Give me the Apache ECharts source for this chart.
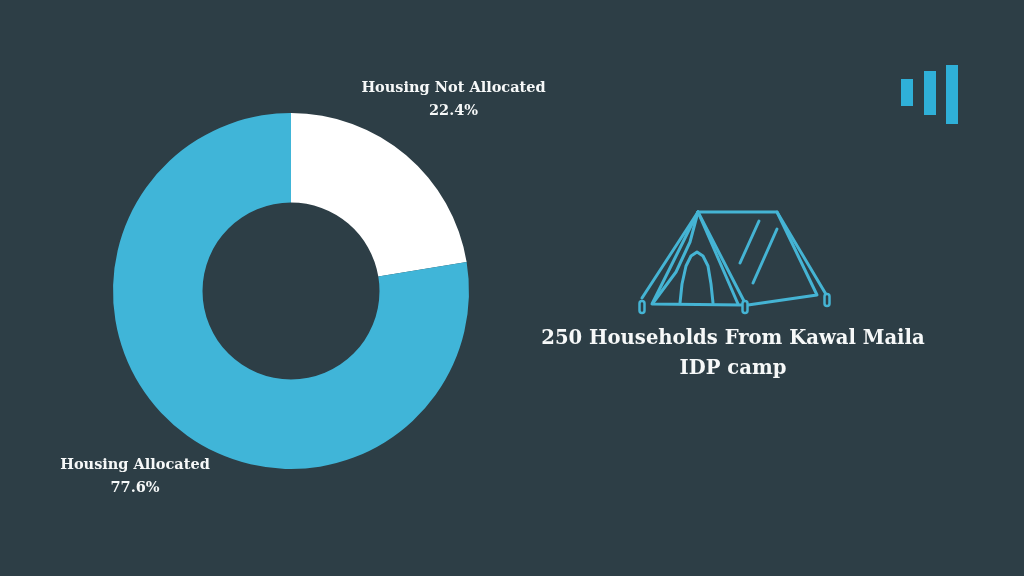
<!DOCTYPE html>
<html><head><meta charset="utf-8">
<style>html,body{margin:0;padding:0;background:#2d3e46}#c{width:1024px;height:576px}</style>
<script src="https://cdn.jsdelivr.net/npm/echarts@6/dist/echarts.min.js"></script></head>
<body><div id="c"></div>
<script>
const categories = ['Housing Not Allocated', 'Housing Allocated'];
const values = [22.4, 77.6];
const sliceColors = ['#ffffff', '#40b5d8'];
const titleText = '250 Households From Kawal Maila\nIDP camp';
const serif = '"DejaVu Serif","Liberation Serif",serif';
const blue = '#45b4d4';
const tentPaths = [
  [[698,212],[777,212],[827,296]],
  [[698,212],[642,298]],
  [[698,212],[652,304],[743,305]],
  [[698,212],[745,303]],
  [[698,212],[738,304]],
  [[759,221],[740,263]],
  [[777,229],[753,283]],
  [[777,212],[817,295],[748,305]]
];
const tentCurves = [
  [[698,212],[690,242],[676,272],[653,303]],
  [[680,303],[682,284],[686,266],[691,256],[697,252],[703,256],[708,266],[711,284],[713,303]]
];
const tentPegs = [[642,307],[745,307],[827,300]];
const chart = echarts.init(document.getElementById('c'));
chart.setOption({
  backgroundColor: '#2d3e46',
  animation: false,
  series: [{
    type: 'pie', center: [291,291], radius: [88.5,178], startAngle: 90, clockwise: true,
    data: categories.map((n,i)=>({name:n, value:values[i], itemStyle:{color:sliceColors[i]}})),
    label: {show:true, overflow:'none', width:240, formatter:p=>p.name+'\n'+p.value+'%', color:'#f6f8f8', fontFamily:serif, fontWeight:'bold', fontSize:14.5, lineHeight:23, align:'center'},
    labelLine: {show:false},
    labelLayout: p => p.dataIndex===0 ? {x:453.5, y:100, align:'center', verticalAlign:'middle'} : {x:135, y:477, align:'center', verticalAlign:'middle'},
    emphasis: {disabled:true}
  }],
  graphic: [
    ...tentPaths.map(pts=>({type:'polyline', shape:{points:pts}, style:{stroke:blue, lineWidth:3, fill:null, lineJoin:'round', lineCap:'round'}})),
    ...tentCurves.map(pts=>({type:'polyline', shape:{points:pts}, style:{stroke:blue, lineWidth:3, fill:null, lineJoin:'round', lineCap:'round'}})),
    ...tentPegs.map(p=>({type:'rect', shape:{x:p[0]-2.5,y:p[1]-6,width:5,height:12,r:2.5}, style:{stroke:blue, lineWidth:2.5, fill:'#2d3e46'}})),
    {type:'rect', shape:{x:901,y:79,width:12,height:27}, style:{fill:'#2fb0d8'}},
    {type:'rect', shape:{x:924,y:71,width:12,height:44}, style:{fill:'#2fb0d8'}},
    {type:'rect', shape:{x:946,y:65,width:12,height:59}, style:{fill:'#2fb0d8'}},
    {type:'text', x:733, y:354, style:{text:titleText, x:0, y:0, align:'center', verticalAlign:'middle', fill:'#f6f8f8', font:'bold 19.6px '+serif, lineHeight:30}}
  ]
});
</script></body></html>
